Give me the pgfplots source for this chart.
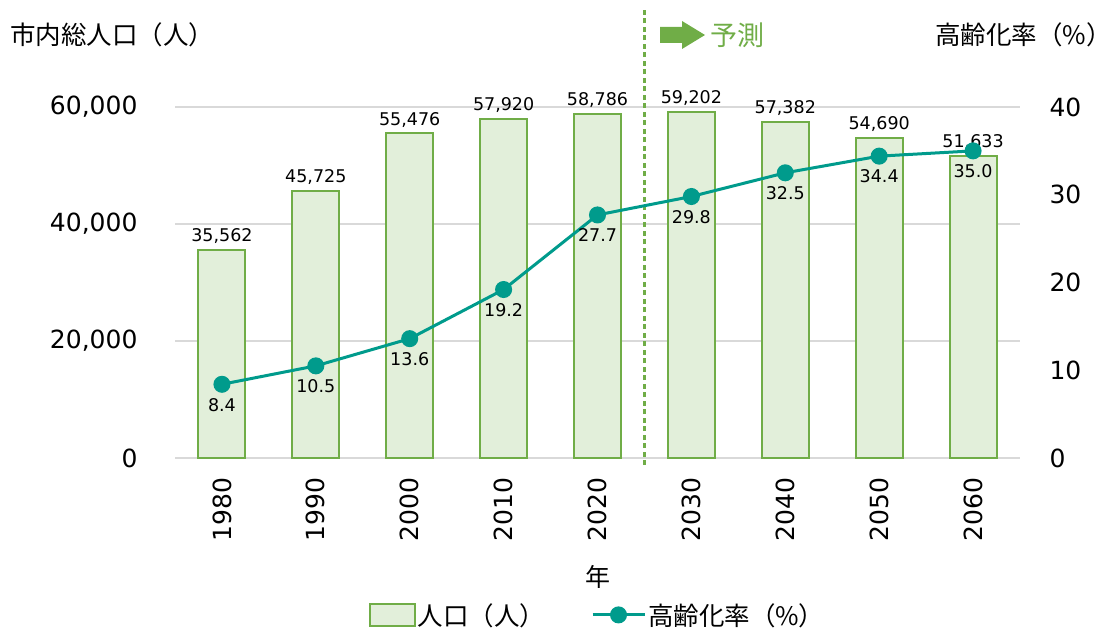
\documentclass[border=0pt]{standalone}
\usepackage{fontspec}
\setmainfont{DejaVu Sans}
\newfontfamily\jp{Noto Sans CJK JP}
\usepackage{pgfplots}
\usepackage{pgfplotstable}
\pgfplotsset{compat=1.18}
\definecolor{barfill}{HTML}{E2EFDA}
\definecolor{bargreen}{HTML}{70AD47}
\definecolor{lineteal}{HTML}{009B8C}
\definecolor{gridgray}{HTML}{D9D9D9}

% x  year  population  aging rate (%)
\pgfplotstableread{
x year pop rate
0 1980 35562 8.4
1 1990 45725 10.5
2 2000 55476 13.6
3 2010 57920 19.2
4 2020 58786 27.7
5 2030 59202 29.8
6 2040 57382 32.5
7 2050 54690 34.4
8 2060 51633 35.0
}\data

\begin{document}
\begin{tikzpicture}[x=1pt,y=1pt]
\useasboundingbox (0,0) rectangle (1118,634);

% population bars, left axis
\begin{axis}[
    at={(175pt,176pt)}, anchor=south west,
    scale only axis, width=845pt, height=351pt,
    xmin=-0.5, xmax=8.5, ymin=0, ymax=60000,
    xtick={0,...,8},
    xticklabels={1980,1990,2000,2010,2020,2030,2040,2050,2060},
    ytick={0,20000,40000,60000},
    scaled y ticks=false,
    major tick length=0pt,
    axis line style={draw=none},
    ymajorgrids,
    grid style={gridgray, line width=1.2pt},
    /pgf/number format/assume math mode=true,
    /pgf/number format/1000 sep={,},
    yticklabel style={font=\fontsize{25}{30}\selectfont, anchor=east, xshift=-34pt,
        /pgf/number format/fixed},
    xticklabel style={font=\fontsize{25}{30}\selectfont, rotate=90, anchor=east},
    xticklabel shift=16pt,
    clip=false,
]
\draw[gridgray, line width=2.2pt] (axis cs:-0.5,0) -- (axis cs:8.5,0);
\addplot[ybar, bar width=47pt, fill=barfill, draw=bargreen, line width=2pt,
    nodes near coords,
    nodes near coords style={font=\fontsize{17.5}{20}\selectfont, text=black,
        /pgf/number format/fixed, /pgf/number format/precision=0,
        /pgf/number format/1000 sep={,}, yshift=2pt},
] table[x=x, y=pop] {\data};
\draw[bargreen, line width=2.2pt, dash pattern=on 5pt off 3.5pt]
    (axis cs:4.5,-1200) -- (axis cs:4.5,76800);
\end{axis}

% aging rate line, right axis
\begin{axis}[
    at={(175pt,176pt)}, anchor=south west,
    scale only axis, width=845pt, height=351pt,
    xmin=-0.5, xmax=8.5, ymin=0, ymax=40,
    axis x line=none,
    axis y line*=right,
    y axis line style={draw=none},
    ytick={0,10,20,30,40},
    major tick length=0pt,
    /pgf/number format/assume math mode=true,
    yticklabel style={font=\fontsize{25}{30}\selectfont, anchor=west, xshift=26pt},
    clip=false,
    legend style={at={(0.5,-0.447)}, anchor=center, draw=none, fill=none,
        font=\jp\fontsize{25.5}{30}\selectfont,
        /tikz/every even column/.append style={column sep=44pt}},
    legend columns=2,
]
\addlegendimage{legend image code/.code={
    \draw[fill=barfill, draw=bargreen, line width=2pt] (0pt,-11pt) rectangle (45pt,11pt);}}
\addlegendentry{人口（人）}
\addplot[lineteal, line width=3pt, mark=*, mark size=7pt,
    mark options={fill=lineteal, draw=lineteal},
    nodes near coords,
    nodes near coords style={font=\fontsize{17.5}{20}\selectfont, text=black,
        anchor=north, yshift=-9pt,
        /pgf/number format/fixed, /pgf/number format/fixed zerofill,
        /pgf/number format/precision=1},
    legend image code/.code={
        \draw[lineteal, line width=3pt] (0pt,0pt) -- (52pt,0pt);
        \fill[lineteal] (26pt,0pt) circle (7pt);},
] table[x=x, y=rate] {\data};
\addlegendentry{高齢化率（\%）}
\end{axis}

% titles and forecast marker
\node[anchor=west, inner sep=0pt, font=\jp\fontsize{25.5}{30}\selectfont] at (10,599) {市内総人口（人）};
\node[anchor=east, inner sep=0pt, font=\jp\fontsize{25.5}{30}\selectfont] at (1112,599) {高齢化率（\%）};
\fill[bargreen] (660,591) -- (682,591) -- (682,585) -- (705,599) -- (682,613) -- (682,607) -- (660,607) -- cycle;
\node[anchor=west, inner sep=0pt, text=bargreen, font=\jp\fontsize{27}{30}\selectfont] at (710,599) {予測};
\node[font=\jp\fontsize{25}{28}\selectfont] at (598,57) {年};
\end{tikzpicture}
\end{document}
